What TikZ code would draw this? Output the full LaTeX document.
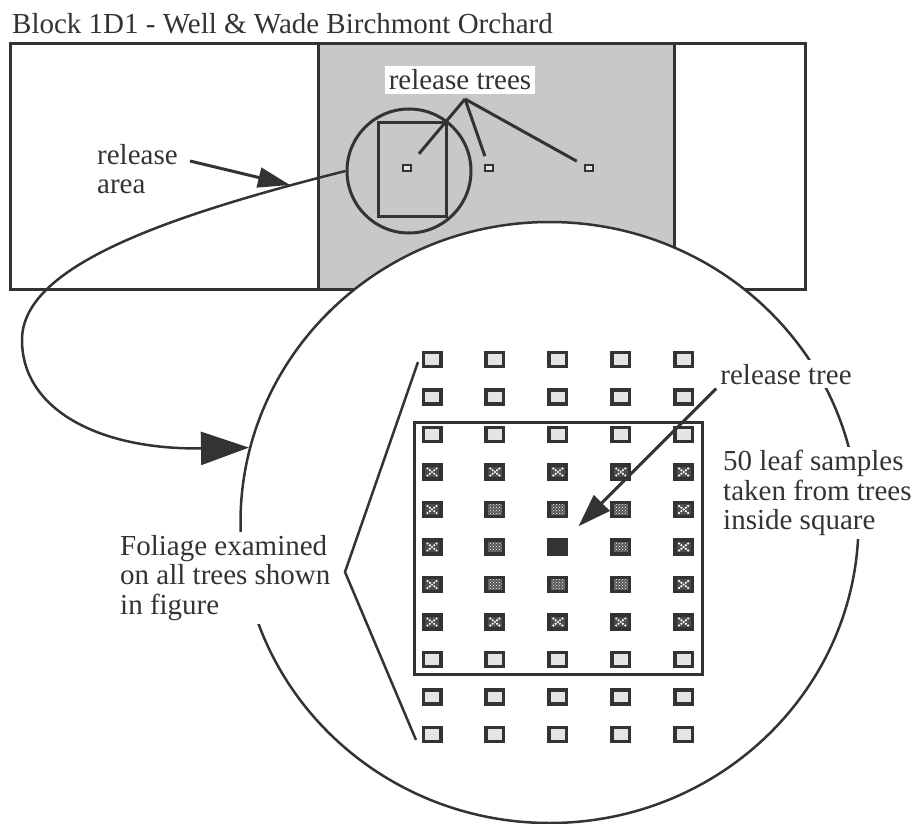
\documentclass[tikz,border=0pt]{standalone}
\usepackage{fontspec}
\setmainfont{Liberation Serif}
\usetikzlibrary{arrows.meta,patterns,shapes.geometric}
\definecolor{ink}{HTML}{333333}
\definecolor{stipple}{HTML}{C8C8C8}
\definecolor{pale}{HTML}{E4E4E4}
\begin{document}
\begin{tikzpicture}[x=1pt,y=-1pt,
  lbl/.style={font=\fontsize{29}{29.5}\selectfont, text=ink},
  edge/.style={draw=ink, line width=3pt},
  thinedge/.style={draw=ink, line width=2.5pt},
  treeplain/.style={draw=ink, line width=3.5pt, fill=pale, minimum width=17.5pt,
    minimum height=14pt, inner sep=0pt},
  treecross/.style={treeplain, fill=black!70, path picture={
    \foreach \dx/\dy in {-4.5/-3.5,4.5/-3.5,-4.5/3.5,4.5/3.5,0/0,-2.2/-1.75,2.2/-1.75,-2.2/1.75,2.2/1.75}
      \fill[white] ([shift={(\dx,\dy)}]path picture bounding box.center) circle (1.2pt);}},
  treedot/.style={treeplain, fill=black!66, path picture={
    \fill[pattern=crosshatch dots, pattern color=white]
      (path picture bounding box.south west) rectangle (path picture bounding box.north east);}},
  treesolid/.style={treeplain, fill=ink},
  marker/.style={draw=ink, line width=2.5pt, fill=pale, minimum width=8pt,
    minimum height=6pt, inner sep=0pt},
]
\useasboundingbox (0,0) rectangle (921,824);
\clip (0,0) rectangle (921,824);
\fill[white] (0,0) rectangle (921,824);

% title
\node[lbl, anchor=base west, inner sep=0pt] (title) at (12,34)
  {Block 1D1 - Well \& Wade Birchmont Orchard};

% orchard block with the shaded release strip
\fill[stipple] (318,44) rectangle (674,289);
\draw[edge] (10,44) rectangle (805,289);
\draw[edge] (318,44) -- (318,289);
\draw[edge] (674,44) -- (674,289);

% release area and release trees in the block
\node[circle, draw=ink, line width=3pt, minimum size=124pt, inner sep=0pt] (sc) at (409,171) {};
\node[draw=ink, line width=3pt, minimum width=68pt, minimum height=93pt, inner sep=0pt] (sr) at (412,169.5) {};
\node[marker] (t1) at (407,168) {};
\node[marker] (t2) at (489,168) {};
\node[marker] (t3) at (589,168) {};
\node[lbl, fill=white, inner sep=4pt, anchor=base] (rts) at (460,90) {release trees};
\coordinate (fan) at (465,99);
\draw[edge, shorten >=13pt] (fan) -- (t1);
\draw[edge, shorten >=8pt] (fan) -- (t2);
\draw[edge, shorten >=8pt] (fan) -- (t3);

\node[lbl, inner sep=3pt, align=left, anchor=north west] (ra) at (94,141) {release\\area};
\coordinate (ra-tail) at (190,161);
\coordinate (ra-tip) at (290,185);
\draw[edge, -{Triangle[length=32pt,width=20pt]}] (ra-tail) -- (ra-tip);

% enlarged view of the release area
\node[ellipse, draw=ink, line width=2.5pt, fill=white, minimum width=618pt,
  minimum height=601pt, inner sep=0pt] (bc) at (549.5,522.5) {};

\coordinate (bend) at (22,340);
\draw[thinedge, -{Triangle[length=48pt,width=33pt]}]
  (sc.west) .. controls (150,220) and (22,270) .. (bend)
  .. controls (22,410) and (100,450) .. (bc.166.4);

% sampling square and tree grid
\node[draw=ink, line width=3pt, minimum width=288pt, minimum height=252pt,
  inner sep=0pt] (sq) at (558,548) {};
\foreach \r/\kinds in {
  1/{treeplain,treeplain,treeplain,treeplain,treeplain},
  2/{treeplain,treeplain,treeplain,treeplain,treeplain},
  3/{treeplain,treeplain,treeplain,treeplain,treeplain},
  4/{treecross,treecross,treecross,treecross,treecross},
  5/{treecross,treedot,treedot,treedot,treecross},
  6/{treecross,treedot,treesolid,treedot,treecross},
  7/{treecross,treedot,treedot,treedot,treecross},
  8/{treecross,treecross,treecross,treecross,treecross},
  9/{treeplain,treeplain,treeplain,treeplain,treeplain},
  10/{treeplain,treeplain,treeplain,treeplain,treeplain},
  11/{treeplain,treeplain,treeplain,treeplain,treeplain}}{
  \foreach \k [count=\c] in \kinds {
    \node[\k] (g-\r-\c) at ({432+62.9*(\c-1)},{359.5+37.5*(\r-1)}) {};
  }
}

% bracket grouping all trees
\coordinate (br-top) at (418,362);
\coordinate (br-mid) at (345,572);
\coordinate (br-bot) at (416,740);
\draw[thinedge] (br-top) -- (br-mid) -- (br-bot);

% labels in the enlarged view
\node[lbl, fill=white, inner sep=4pt, anchor=base] (rtl) at (786,384) {release tree};
\draw[edge, -{Triangle[length=33pt,width=22pt]}, shorten >=17pt] (rtl.south west) -- (g-6-3);

\node[lbl, fill=white, inner sep=3pt, align=left, anchor=north west] (lf) at (720,447)
  {50 leaf samples\\taken from trees\\inside square};
\node[lbl, fill=white, inner sep=3pt, align=left, anchor=north west] (fol) at (117,532)
  {Foliage examined\\on all trees shown\\in figure};
\end{tikzpicture}
\end{document}
